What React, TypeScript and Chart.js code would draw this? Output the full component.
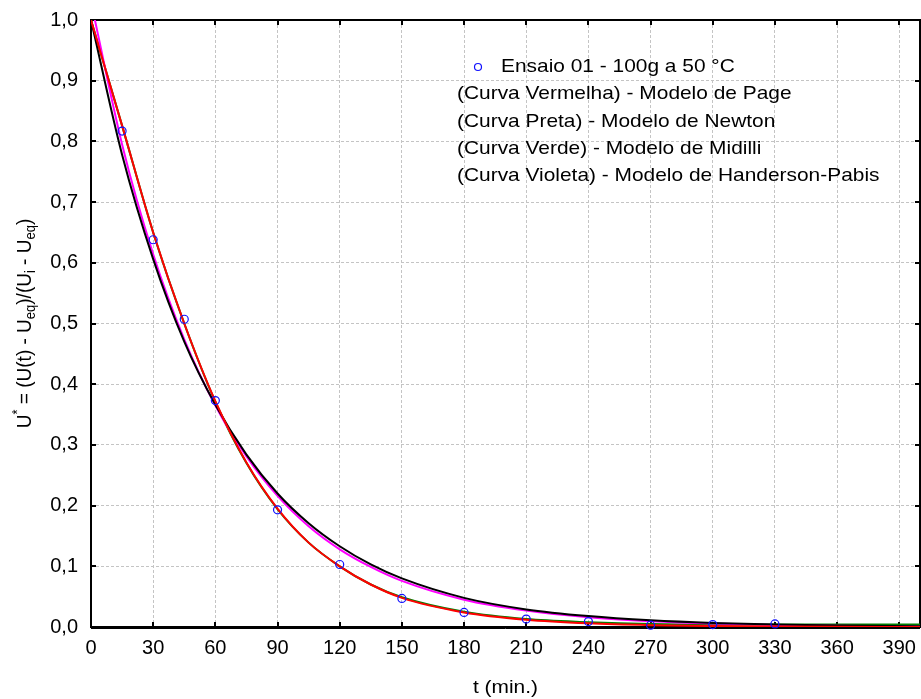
import React, { useEffect, useRef } from 'react';
import { Chart, registerables } from 'chart.js';

Chart.register(...registerables);

// Observed data (Ensaio 01 - 100g a 50 °C)
const T_OBS = [15, 30, 45, 60, 90, 120, 150, 180, 210, 240, 270, 300, 330];
const U_OBS = [0.817, 0.638, 0.507, 0.373, 0.193, 0.103, 0.047, 0.024, 0.013, 0.009, 0.003, 0.004, 0.005];

// Model curves
const T_CURVE = [0, 15, 30, 45, 60, 75, 90, 105, 120, 135, 150, 180, 210, 240, 270, 300, 330, 360, 400];
const U_PAGE = [1.0, 0.826, 0.65, 0.5, 0.372, 0.271, 0.195, 0.139, 0.1, 0.07, 0.048, 0.024, 0.012, 0.006, 0.003, 0.0015, 0.0007, 0.0003, 0.0001];
const U_NEWTON = [1.0, 0.778, 0.606, 0.47, 0.366, 0.284, 0.22, 0.171, 0.133, 0.103, 0.08, 0.048, 0.029, 0.018, 0.011, 0.0066, 0.004, 0.0024, 0.0012];
const U_MIDILLI = [1.0, 0.826, 0.65, 0.5, 0.371, 0.27, 0.194, 0.139, 0.1, 0.07, 0.049, 0.025, 0.013, 0.008, 0.005, 0.004, 0.004, 0.004, 0.004];
const U_HENDERSON = [1.03, 0.795, 0.614, 0.474, 0.365, 0.281, 0.216, 0.166, 0.128, 0.099, 0.076, 0.045, 0.027, 0.016, 0.0095, 0.0056, 0.0033, 0.002, 0.001];

const X_TICKS = [0, 30, 60, 90, 120, 150, 180, 210, 240, 270, 300, 330, 360, 390];
const Y_TICKS = [0, 0.1, 0.2, 0.3, 0.4, 0.5, 0.6, 0.7, 0.8, 0.9, 1.0];

const LEGEND_MARKER_TEXT = 'Ensaio 01 - 100g a 50 °C';
const LEGEND_LINES = [
  '(Curva Vermelha) - Modelo de Page',
  '(Curva Preta) - Modelo de Newton',
  '(Curva Verde) - Modelo de Midilli',
  '(Curva Violeta) - Modelo de Handerson-Pabis',
];
const X_TITLE = 't (min.)';

const FONT = '"Liberation Sans", Arial, Helvetica, sans-serif';

const pairs = (xs: number[], ys: number[]) => xs.map((x, i) => ({ x, y: ys[i] }));

const drawStretched = (ctx: CanvasRenderingContext2D, text: string, x: number, y: number, size: number, sx: number, align: CanvasTextAlign = 'left') => {
  ctx.save();
  ctx.translate(x, y);
  ctx.scale(sx, 1);
  ctx.font = `${size}px ${FONT}`;
  ctx.textAlign = align;
  ctx.textBaseline = 'middle';
  ctx.fillText(text, 0, 0);
  ctx.restore();
};

const framePlugin = {
  id: 'frameTicks',
  beforeDatasetsDraw(chart: any) {
    const { ctx, chartArea } = chart;
    const { left, right, top, bottom } = chartArea;
    const xs = chart.scales.x;
    const ys = chart.scales.y;
    ctx.save();
    ctx.strokeStyle = '#000';
    ctx.lineWidth = 2;
    ctx.beginPath();
    X_TICKS.forEach((v) => {
      const px = Math.round(xs.getPixelForValue(v));
      ctx.moveTo(px, bottom);
      ctx.lineTo(px, bottom - 5);
      ctx.moveTo(px, top);
      ctx.lineTo(px, top + 5);
    });
    Y_TICKS.forEach((v) => {
      const py = Math.round(ys.getPixelForValue(v));
      ctx.moveTo(left, py);
      ctx.lineTo(left + 5, py);
      ctx.moveTo(right, py);
      ctx.lineTo(right - 5, py);
    });
    ctx.stroke();
    ctx.lineWidth = 2;
    ctx.strokeRect(left, top, right - left, bottom - top);
    ctx.beginPath();
    ctx.lineWidth = 1;
    ctx.moveTo(left, bottom + 1.5);
    ctx.lineTo(right, bottom + 1.5);
    ctx.stroke();
    ctx.restore();
  },
};

const textPlugin = {
  id: 'texts',
  afterDraw(chart: any) {
    const { ctx, chartArea } = chart;
    ctx.save();
    ctx.fillStyle = '#000';

    // Legend block
    ctx.strokeStyle = '#1010ff';
    ctx.lineWidth = 1.2;
    ctx.beginPath();
    ctx.arc(478, 67, 3.5, 0, Math.PI * 2);
    ctx.stroke();
    drawStretched(ctx, LEGEND_MARKER_TEXT, 501, 67, 19, 1.1);
    const ys = [94, 122, 149, 176];
    LEGEND_LINES.forEach((t, i) => drawStretched(ctx, t, 457, ys[i], 19, 1.1));

    // X title
    drawStretched(ctx, X_TITLE, (chartArea.left + chartArea.right) / 2, 688, 19, 1.1, 'center');

    // Y title with super/subscripts
    const parts: { t: string; k: 'n' | 'sup' | 'sub' }[] = [
      { t: 'U', k: 'n' },
      { t: '*', k: 'sup' },
      { t: ' = (U(t) - U', k: 'n' },
      { t: 'eq', k: 'sub' },
      { t: ')/(U', k: 'n' },
      { t: 'i', k: 'sub' },
      { t: ' - U', k: 'n' },
      { t: 'eq', k: 'sub' },
      { t: ')', k: 'n' },
    ];
    const big = 19;
    const small = 13;
    const fontFor = (k: string) => `${k === 'n' ? big : small}px ${FONT}`;
    let total = 0;
    parts.forEach((p) => {
      ctx.font = fontFor(p.k);
      total += ctx.measureText(p.t).width;
    });
    const cy = (chartArea.top + chartArea.bottom) / 2;
    ctx.translate(23, cy);
    ctx.rotate(-Math.PI / 2);
    ctx.scale(1, 1.1);
    ctx.textAlign = 'left';
    ctx.textBaseline = 'alphabetic';
    let xpos = -total / 2;
    parts.forEach((p) => {
      ctx.font = fontFor(p.k);
      const off = p.k === 'sup' ? -1 : p.k === 'sub' ? 11 : 7;
      ctx.fillText(p.t, xpos, off);
      xpos += ctx.measureText(p.t).width;
    });
    ctx.restore();
  },
};

export default function App() {
  const canvasRef = useRef<HTMLCanvasElement | null>(null);

  useEffect(() => {
    const canvas = canvasRef.current;
    if (!canvas) return;
    const lineDs = (label: string, ys: number[], color: string) => ({
      label,
      data: pairs(T_CURVE, ys),
      showLine: true,
      borderColor: color,
      backgroundColor: color,
      borderWidth: 2,
      pointRadius: 0,
      pointHoverRadius: 0,
      cubicInterpolationMode: 'monotone' as const,
      fill: false,
    });
    const chart = new Chart(canvas, {
      type: 'scatter',
      data: {
        datasets: [
          {
            label: LEGEND_MARKER_TEXT,
            data: pairs(T_OBS, U_OBS),
            showLine: false,
            pointStyle: 'circle',
            pointRadius: 4,
            pointBorderWidth: 1.2,
            borderColor: '#1010ff',
            backgroundColor: 'rgba(0,0,0,0)',
            clip: false,
          } as any,
          lineDs('Page', U_PAGE, '#ff0000'),
          lineDs('Newton', U_NEWTON, '#000000'),
          lineDs('Henderson-Pabis', U_HENDERSON, '#ff00ff'),
          lineDs('Midilli', U_MIDILLI, '#008000'),
        ],
      },
      options: {
        responsive: false,
        devicePixelRatio: 1,
        animation: false,
        events: [],
        layout: { autoPadding: false, padding: { top: 20, right: 1, left: 0, bottom: 0 } },
        plugins: {
          legend: { display: false },
          tooltip: { enabled: false },
          title: { display: false },
        },
        scales: {
          x: {
            type: 'linear',
            min: 0,
            max: 400,
            afterBuildTicks: (s: any) => {
              s.ticks = X_TICKS.map((v) => ({ value: v }));
            },
            afterFit: (s: any) => {
              s.height = 72;
              s.paddingLeft = 0;
              s.paddingRight = 0;
            },
            ticks: {
              autoSkip: false,
              maxRotation: 0,
              color: '#000',
              padding: 9,
              font: { family: FONT, size: 20 },
              callback: (v: any) => String(v),
            },
            grid: { color: '#c4c4c4', lineWidth: 1, drawTicks: false },
            border: { display: false, dash: [3, 2] },
          },
          y: {
            type: 'linear',
            min: 0,
            max: 1,
            afterBuildTicks: (s: any) => {
              s.ticks = Y_TICKS.map((v) => ({ value: v }));
            },
            afterFit: (s: any) => {
              s.width = 91;
              s.paddingTop = 0;
              s.paddingBottom = 0;
            },
            ticks: {
              autoSkip: false,
              color: '#000',
              padding: 13,
              font: { family: FONT, size: 20 },
              callback: (v: any) => Number(v).toFixed(1).replace('.', ','),
            },
            grid: { color: '#c4c4c4', lineWidth: 1, drawTicks: false },
            border: { display: false, dash: [3, 2] },
          },
        },
      },
      plugins: [framePlugin, textPlugin],
    });
    return () => chart.destroy();
  }, []);

  return (
    <div style={{ position: 'fixed', left: 0, top: 0, width: 921, height: 699, background: '#fff' }}>
      <canvas ref={canvasRef} width={921} height={699} style={{ display: 'block' }} />
    </div>
  );
}
